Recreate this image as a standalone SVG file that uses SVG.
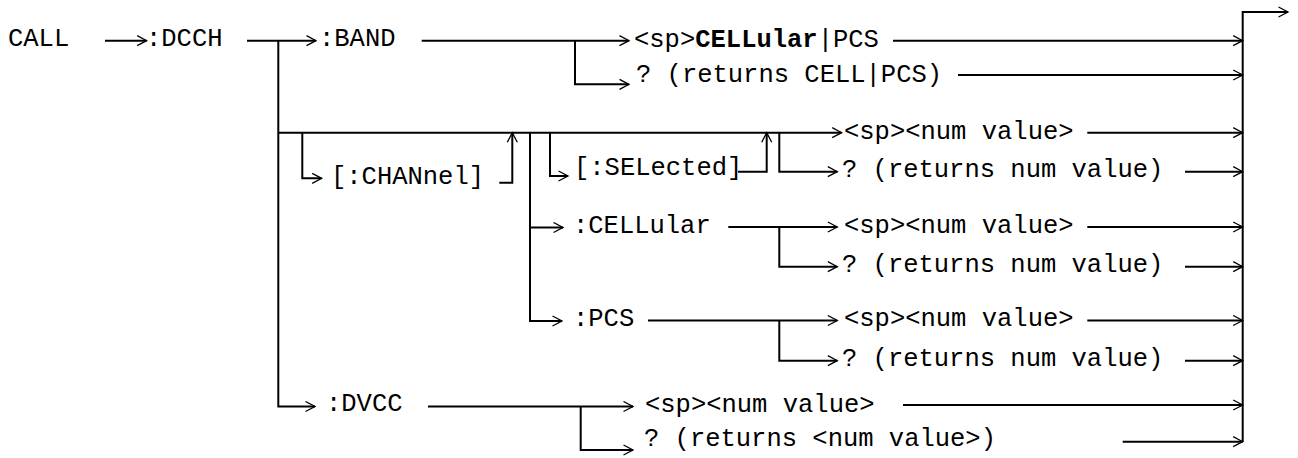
<svg xmlns="http://www.w3.org/2000/svg" width="1298" height="458" viewBox="0 0 1298 458">
<style>
text{font-family:"Liberation Mono","Courier New",monospace;font-size:25.5px;fill:#000}
.b{font-weight:bold}
.c path{fill:none;stroke:#000;stroke-width:2}
.a{marker-end:url(#ah)}
</style>
<defs>
<marker id="ah" markerUnits="userSpaceOnUse" markerWidth="12" markerHeight="12" viewBox="0 0 12 12" refX="10.5" refY="6" orient="auto">
<path d="M1,1 L10.5,6 L1,11" fill="none" stroke="#000" stroke-width="1.3"/>
</marker>
</defs>
<rect width="1298" height="458" fill="#fff"/>
<g id="connectors" class="c">
<path class="a" d="M105,40.7 H146.7"/>
<path class="a" d="M247,40.7 H316"/>
<path class="a" d="M421.7,40.7 H629"/>
<path class="a" d="M575,40.7 V84.3 H629"/>
<path class="a" d="M893,40.7 H1242.7"/>
<path class="a" d="M958,75 H1242.7"/>
<path class="a" d="M1242.7,442 V12 H1288"/>
<path class="a" d="M278.3,40.7 V406.5 H315"/>
<path class="a" d="M278.3,132.7 H841.7"/>
<path class="a" d="M302.3,132.7 V178.3 H321.7"/>
<path class="a" d="M499.3,182.7 H512.3 V132.7"/>
<path class="a" d="M530,132.7 V321 H562"/>
<path class="a" d="M530,227.5 H563"/>
<path class="a" d="M550,132.7 V176 H568"/>
<path class="a" d="M738,171.7 H766.7 V132.7"/>
<path class="a" d="M779.3,132.7 V171.7 H837.3"/>
<path class="a" d="M1087.3,132.7 H1242.7"/>
<path class="a" d="M1185,171.7 H1242.7"/>
<path class="a" d="M728.3,227 H837.3"/>
<path class="a" d="M779.3,227 V266.7 H837.3"/>
<path class="a" d="M1087.3,227 H1242.7"/>
<path class="a" d="M1185,266.7 H1242.7"/>
<path class="a" d="M648,320.5 H837.3"/>
<path class="a" d="M779.3,320.5 V360.7 H837.3"/>
<path class="a" d="M1087.3,320.5 H1242.7"/>
<path class="a" d="M1185,360.7 H1242.7"/>
<path class="a" d="M428,406.5 H633"/>
<path class="a" d="M580.7,406.5 V450 H633"/>
<path class="a" d="M903,405 H1242.7"/>
<path class="a" d="M1122.7,441.7 H1242.7"/>
</g>
<g id="n-call"><text x="8" y="46">CALL</text></g>
<g id="n-dcch"><text x="146" y="46">:DCCH</text></g>
<g id="n-band"><text x="319" y="46">:BAND</text></g>
<g id="n-band-set"><text x="634" y="47">&lt;sp&gt;<tspan class="b">CELLular</tspan>|PCS</text></g>
<g id="n-band-q"><text x="636" y="82">? (returns CELL|PCS)</text></g>
<g id="n-chan"><text x="331" y="184">[:CHANnel]</text></g>
<g id="n-sel"><text x="574" y="175">[:SELected]</text></g>
<g id="n-sel-set"><text x="844" y="139">&lt;sp&gt;&lt;num value&gt;</text></g>
<g id="n-sel-q"><text x="842" y="177">? (returns num value)</text></g>
<g id="n-cell"><text x="573" y="233">:CELLular</text></g>
<g id="n-cell-set"><text x="844" y="233">&lt;sp&gt;&lt;num value&gt;</text></g>
<g id="n-cell-q"><text x="842" y="272">? (returns num value)</text></g>
<g id="n-pcs"><text x="573" y="326">:PCS</text></g>
<g id="n-pcs-set"><text x="844" y="326">&lt;sp&gt;&lt;num value&gt;</text></g>
<g id="n-pcs-q"><text x="842" y="366">? (returns num value)</text></g>
<g id="n-dvcc"><text x="326" y="411">:DVCC</text></g>
<g id="n-dvcc-set"><text x="645" y="412">&lt;sp&gt;&lt;num value&gt;</text></g>
<g id="n-dvcc-q"><text x="644" y="446">? (returns &lt;num value&gt;)</text></g>
</svg>
